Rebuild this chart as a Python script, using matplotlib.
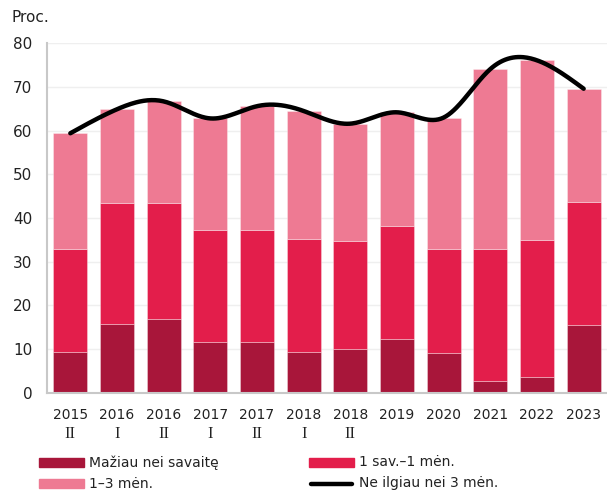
import matplotlib
matplotlib.use("Agg")
import matplotlib.pyplot as plt
from matplotlib.patches import Rectangle
from matplotlib.lines import Line2D
import numpy as np

DARK = "#A8163A"
MID = "#E31E4B"
LIGHT = "#EE7A93"
GRID = "#EFEFEF"
AXIS = "#C8C8C8"

years = ["2015", "2016", "2016", "2017", "2017", "2018", "2018",
         "2019", "2020", "2021", "2022", "2023"]
halves = ["II", "I", "II", "I", "II", "I", "II", "", "", "", "", ""]

# percentages
less_week = [9.4, 15.7, 16.9, 11.7, 11.5, 9.4, 10.1, 12.2, 9.2, 2.6, 3.5, 15.6]
week_month = [23.6, 27.8, 26.6, 25.5, 25.7, 25.8, 24.7, 26.0, 23.6, 30.2, 31.5, 28.1]
month_3m = [26.4, 21.4, 23.2, 25.6, 28.4, 29.3, 26.8, 26.0, 30.2, 41.3, 41.1, 25.9]
up_to_3m = [59.4, 64.9, 66.7, 62.8, 65.6, 64.5, 61.6, 64.2, 63.0, 74.1, 76.1, 69.6]


def natural_spline(x, y, n=400):
    x = np.asarray(x, float)
    y = np.asarray(y, float)
    k = len(x)
    h = np.diff(x)
    A = np.zeros((k, k))
    b = np.zeros(k)
    A[0, 0] = A[-1, -1] = 1
    for i in range(1, k - 1):
        A[i, i - 1] = h[i - 1]
        A[i, i] = 2 * (h[i - 1] + h[i])
        A[i, i + 1] = h[i]
        b[i] = 3 * ((y[i + 1] - y[i]) / h[i] - (y[i] - y[i - 1]) / h[i - 1])
    c = np.linalg.solve(A, b)
    xs = np.linspace(x[0], x[-1], n)
    idx = np.clip(np.searchsorted(x, xs) - 1, 0, k - 2)
    bb = (y[1:] - y[:-1]) / h - h * (2 * c[:-1] + c[1:]) / 3
    d = (c[1:] - c[:-1]) / (3 * h)
    dx = xs - x[idx]
    ys = y[idx] + bb[idx] * dx + c[idx] * dx ** 2 + d[idx] * dx ** 3
    return xs, ys


fig = plt.figure(figsize=(6.07, 4.92), dpi=100)
ax = fig.add_axes([0.0774, 0.2018, 0.9226, 0.7102])

x = np.arange(len(years))
w = 0.735
lw_edge = 0.6
ax.bar(x, less_week, w, color=DARK, edgecolor="#ffffff60", linewidth=lw_edge, zorder=2)
b2 = np.array(less_week)
ax.bar(x, week_month, w, bottom=b2, color=MID, edgecolor="#ffffff60", linewidth=lw_edge, zorder=2)
b3 = b2 + np.array(week_month)
ax.bar(x, month_3m, w, bottom=b3, color=LIGHT, edgecolor="#ffffff60", linewidth=lw_edge, zorder=2)

xs, ys = natural_spline(x, up_to_3m)
ax.plot(xs, ys, color="black", linewidth=3.2, solid_capstyle="round", zorder=3)

ax.set_xlim(-0.5, len(years) - 0.5)
ax.set_ylim(0, 80)
ax.set_yticks(range(0, 81, 10))
ax.yaxis.grid(True, color=GRID, linewidth=1)
ax.set_axisbelow(True)
for s in ["top", "right"]:
    ax.spines[s].set_visible(False)
ax.spines["left"].set_color(AXIS)
ax.spines["left"].set_linewidth(1.5)
ax.spines["bottom"].set_color(AXIS)
ax.spines["bottom"].set_linewidth(1.5)
ax.tick_params(axis="both", length=0, colors="#222222")
ax.tick_params(axis="y", pad=10.5, labelsize=11)
ax.set_xticks(x)
ax.set_xticklabels(years, fontsize=10)
ax.tick_params(axis="x", pad=11)
for xi, h in zip(x, halves):
    if h:
        ax.text(xi, -9.4, h, ha="center", va="center", fontsize=12,
                family="Liberation Serif", color="#222222")

fig.text(12 / 607, 1 - 18 / 492, "Proc.", fontsize=11, va="center", ha="left", color="#222222")

# legend
def leg_patch(x0, yc, color):
    fig.patches.append(Rectangle((x0 / 607, 1 - (yc + 4.5) / 492), 45 / 607, 9 / 492,
                                 transform=fig.transFigure, color=color, figure=fig))

row1, row2 = 462.5, 483.5
leg_patch(39, row1, DARK)
leg_patch(39, row2, LIGHT)
leg_patch(309, row1, MID)
fig.lines.append(Line2D([311 / 607, 352 / 607], [1 - row2 / 492] * 2, color="black",
                        linewidth=3.2, solid_capstyle="round", transform=fig.transFigure))
for tx, ty, s in [(89, row1, "Mažiau nei savaitę"), (89, row2, "1–3 mėn."),
                  (359, row1, "1 sav.–1 mėn."), (359, row2, "Ne ilgiau nei 3 mėn.")]:
    fig.text(tx / 607, 1 - ty / 492, s, fontsize=10, va="center", ha="left", color="#222222")

fig.savefig("out.png", dpi=100)
